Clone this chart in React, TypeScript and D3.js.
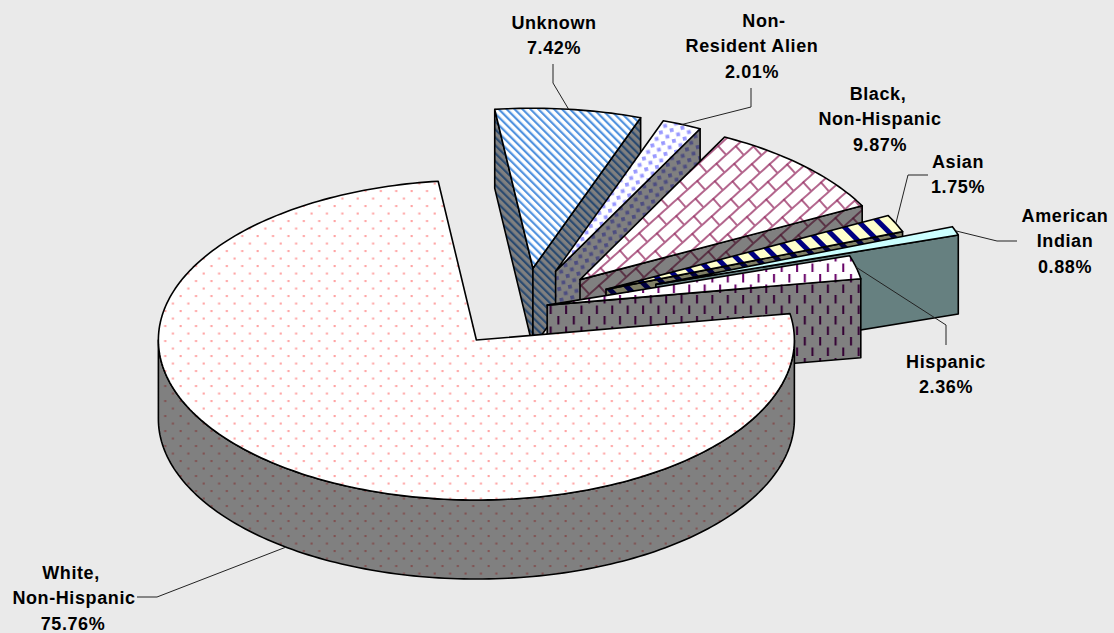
import { useEffect, useRef } from "react";
import { select, pie, line, range, scaleLinear, rgb, curveLinear } from "d3";

// values (clockwise, starting from the back of the pie)
const categories = [
  "Unknown",
  "Non-Resident Alien",
  "Black, Non-Hispanic",
  "Asian",
  "American Indian",
  "Hispanic",
  "White, Non-Hispanic",
];
const percents = [7.42, 2.01, 9.87, 1.75, 0.88, 2.36, 75.76];

// how far each slice is pulled out of the pie (share of the radius)
const explode = [0.25, 0.25, 0.25, 0.283, 0.44, 0.075, 0.25];

const WIDTH = 1114;
const HEIGHT = 633;
const CENTER_X = 524;
const CENTER_Y = 308;
const RADIUS_X = 318;
const RADIUS_Y = 160;
const DEPTH = 79;
const START_ANGLE = (-6.9 * Math.PI) / 180;

// -1..1 on the unit circle to pixels, relative to the centre of the pie
const sx = scaleLinear([-1, 1], [-RADIUS_X, RADIUS_X]);
const sy = scaleLinear([-1, 1], [-RADIUS_Y, RADIUS_Y]);

const fg = ["#3f88dc", "#9999ff", "#993366", "#000080", "#ccffff", "#660066", "#ff9999"];
const bg = ["#ffffff", "#ffffff", "#ffffff", "#ffffcc", "#ccffff", "#ffffff", "#ffffff"];

// label text lines, centre x, first baseline and leader line (elbow, end)
const labelLines = [
  ["Unknown", "7.42%"],
  ["Non-", "Resident Alien", "2.01%"],
  ["Black,", "Non-Hispanic", "9.87%"],
  ["Asian", "1.75%"],
  ["American", "Indian", "0.88%"],
  ["Hispanic", "2.36%"],
  ["White,", "Non-Hispanic", "75.76%"],
];
const labelX = [554, 752, 880, 958, 1065, 946, 74];
const labelY = [29, 27, 100, 168, 222, 368, 579];
const lineDx: number[][] = [[0, 0], [12, 0, 0], [-2, 0, 0], [0, 0], [0, 0, 0], [0, 0], [-3, 0, -1]];
const leaders: ([number, number][] | null)[] = [
  [[553, 83], [553, 64]],
  [[751, 107], [751, 88]],
  null,
  [[908, 175], [928, 175]],
  [[997, 241], [1017, 241]],
  [[946, 325], [946, 345]],
  [[157, 597], [137, 597]],
];

const darken = (c: string) => {
  const k = rgb(c);
  return rgb(k.r * 0.5, k.g * 0.5, k.b * 0.5).formatHex();
};

const addPattern = (defs: any, i: number, shade: boolean) => {
  const f = shade ? darken(fg[i]) : fg[i];
  const b = shade ? darken(bg[i]) : bg[i];
  const p = defs
    .append("pattern")
    .attr("id", `p${i}${shade ? "w" : "t"}`)
    .attr("patternUnits", "userSpaceOnUse");
  const size = (w: number, h: number, t?: string) => {
    p.attr("width", w).attr("height", h);
    if (t) p.attr("patternTransform", t);
    p.append("rect").attr("width", w).attr("height", h).attr("fill", b);
  };
  const dot = (x: number, y: number, w: number, h: number, o = 1) =>
    p.append("rect").attr("x", x).attr("y", y).attr("width", w).attr("height", h).attr("fill", f).attr("opacity", o);

  if (i === 0) {
    size(5.6, 5.6, "rotate(-45)");
    dot(0, 0, 2.2, 5.6, 0.9);
  } else if (i === 1) {
    size(11, 11, "rotate(-12)");
    dot(1, 1, 3.8, 3.8);
    dot(6.5, 6.5, 3.8, 3.8);
  } else if (i === 2) {
    size(26, 24, "rotate(-42)");
    const o = 0.75;
    dot(0, 0, 26, 2, o);
    dot(0, 12, 26, 2, o);
    dot(6, 0, 2, 12, o);
    dot(19, 12, 2, 12, o);
  } else if (i === 3) {
    size(14, 14, "rotate(-45)");
    dot(0, 0, 5, 14);
  } else if (i === 4) {
    size(8, 8);
  } else if (i === 5) {
    size(15.4, 21);
    dot(3, 1, 2, 8.5);
    dot(10.7, 11.5, 2, 8.5);
  } else {
    size(15.4, 15);
    dot(2.5, 2.5, 2.1, 2.1, 0.9);
    dot(10.2, 10, 2.1, 2.1, 0.9);
  }
};

const DrawChart = (el: SVGSVGElement) => {
  const svg = select(el);
  svg.selectAll("*").remove();

  const defs = svg.append("defs");
  categories.forEach((_, i) => {
    addPattern(defs, i, false);
    addPattern(defs, i, true);
  });

  svg.append("rect").attr("width", WIDTH).attr("height", HEIGHT).attr("fill", "#eaeaea");

  const arcs = pie<number>()
    .sort(null)
    .startAngle(START_ANGLE)
    .endAngle(START_ANGLE + 2 * Math.PI)(percents);

  const toPath = line<[number, number]>()
    .x((d) => d[0])
    .y((d) => d[1])
    .curve(curveLinear);

  const apexes = arcs.map((a, i) => {
    const mid = (a.startAngle + a.endAngle) / 2;
    return [
      CENTER_X + explode[i] * sx(Math.sin(mid)),
      CENTER_Y - explode[i] * sy(Math.cos(mid)),
    ] as [number, number];
  });

  const rim = (i: number, t: number, dy = 0): [number, number] => [
    apexes[i][0] + sx(Math.sin(t)),
    apexes[i][1] - sy(Math.cos(t)) + dy,
  ];

  const arcPoints = (i: number, a0: number, a1: number, dy = 0) => {
    const n = Math.max(2, Math.ceil(Math.abs(a1 - a0) / 0.02));
    return range(n + 1).map((k) => rim(i, a0 + ((a1 - a0) * k) / n, dy));
  };

  const outline = (g: any, pts: [number, number][], fill: string) =>
    g
      .append("path")
      .attr("d", toPath(pts) + "Z")
      .attr("fill", fill)
      .attr("stroke", "#000")
      .attr("stroke-width", 1.6)
      .attr("stroke-linejoin", "round");

  const chart = svg.append("g").attr("id", "pie");

  // back slices first, the big front slice goes on last
  arcs.forEach((a, i) => {
    const g = chart.append("g").attr("id", `slice${i}`);
    const wall = `url(#p${i}w)`;
    const top = `url(#p${i}t)`;
    const apex = apexes[i];
    const apexLow: [number, number] = [apex[0], apex[1] + DEPTH];

    // the cut faces only show when they look towards the viewer
    if (a.endAngle - a.startAngle < Math.PI) {
      if (Math.sin(a.startAngle) < 0) {
        outline(g, [apex, rim(i, a.startAngle), rim(i, a.startAngle, DEPTH), apexLow], wall);
      }
      if (Math.sin(a.endAngle) > 0) {
        outline(g, [apex, rim(i, a.endAngle), rim(i, a.endAngle, DEPTH), apexLow], wall);
      }
    }

    // outer wall, front half of the ellipse
    const from = Math.max(a.startAngle, Math.PI / 2);
    const to = Math.min(a.endAngle, (3 * Math.PI) / 2);
    if (to > from) {
      outline(g, [...arcPoints(i, from, to), ...arcPoints(i, to, from, DEPTH)], wall);
    }

    outline(g, [apex, ...arcPoints(i, a.startAngle, a.endAngle)], top);
  });

  // leader lines
  const lead = svg.append("g").attr("id", "leaders");
  arcs.forEach((a, i) => {
    const hop = leaders[i];
    if (!hop) return;
    const mid = (a.startAngle + a.endAngle) / 2;
    const start = rim(i, mid, Math.cos(mid) < 0 ? DEPTH : 0);
    lead
      .append("path")
      .attr("d", toPath([start, ...hop]))
      .attr("fill", "none")
      .attr("stroke", "#222")
      .attr("stroke-width", 1);
  });

  // data labels
  const labels = svg
    .append("g")
    .attr("id", "labels")
    .attr("font-family", "'Liberation Sans', Arial, sans-serif")
    .attr("font-weight", "bold")
    .attr("font-size", 18)
    .attr("letter-spacing", 0.6)
    .attr("fill", "#000")
    .attr("text-anchor", "middle");
  labelLines.forEach((rows, i) => {
    rows.forEach((txt, k) => {
      labels
        .append("text")
        .attr("x", labelX[i] + lineDx[i][k])
        .attr("y", labelY[i] + k * 25.4)
        .text(txt);
    });
  });
};

const App = () => {
  const ref = useRef<SVGSVGElement>(null);

  useEffect(() => {
    if (ref.current) DrawChart(ref.current);
  }, []);

  return (
    <svg
      ref={ref}
      width={WIDTH}
      height={HEIGHT}
      style={{ position: "absolute", left: 0, top: 0, display: "block" }}
    />
  );
};

export default App;
